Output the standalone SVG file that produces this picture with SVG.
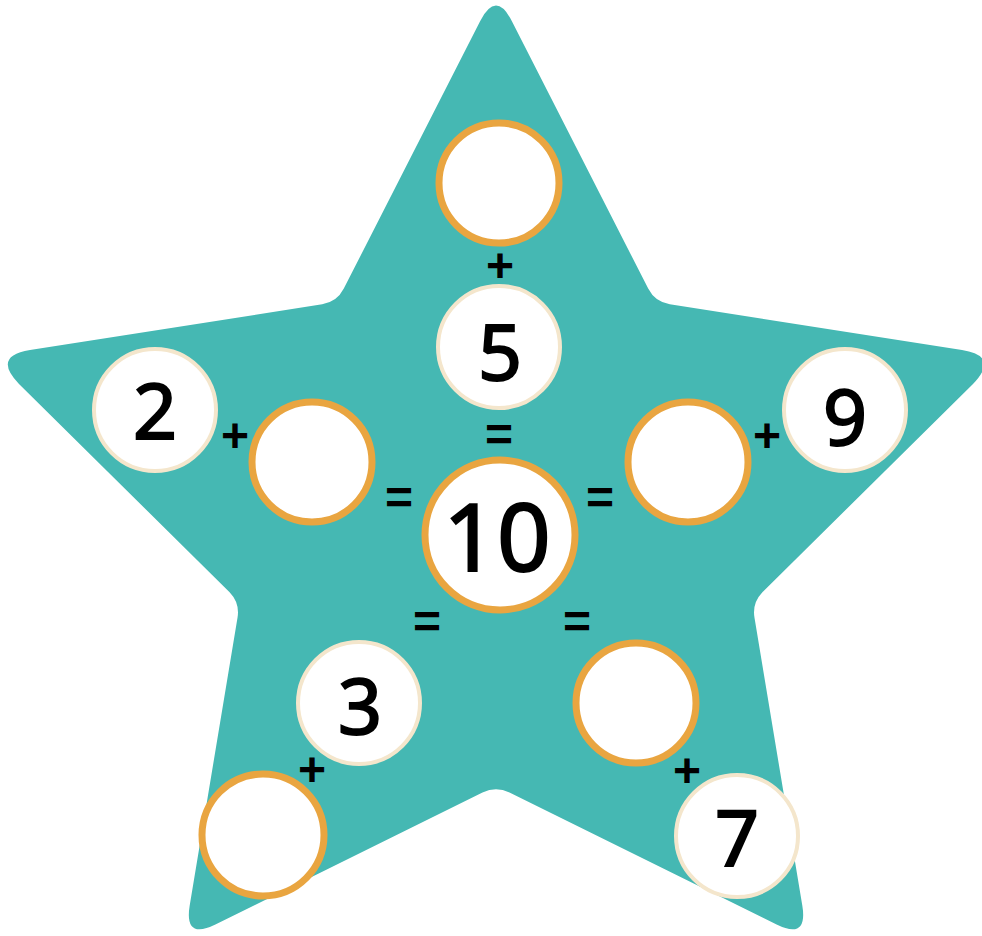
<svg xmlns="http://www.w3.org/2000/svg" width="982" height="936" viewBox="0 0 982 936">
<style>
.star{fill:#45b8b3}
.ring{fill:#ffffff;stroke:#e9a540;stroke-width:7}
.cream{fill:#ffffff;stroke:#f4e6cc;stroke-width:4}
.num{font-family:"Noto Sans",sans-serif;font-weight:normal;font-size:77px;fill:#000;stroke:#000;stroke-width:2;text-anchor:middle}
.big{font-size:94px}
.op{font-family:"Liberation Sans",Arial,sans-serif;font-weight:bold;font-size:48px;fill:#000;text-anchor:middle}
</style>
<path class="star" d="M 480.1,21.2 Q 496,-10 511.9,21.2 L 648.2,288.6 Q 655,302 669.8,304.3 L 962,350 Q 1000,356 973,384 L 762.4,592.2 Q 752,603 754.5,617.8 L 802.3,905.5 Q 808,940 776.6,924.5 L 509.5,792.6 Q 496,786 482.5,792.6 L 215.4,924.5 Q 184,940 189.7,905.5 L 237.5,617.8 Q 240,603 229.6,592.2 L 19,384 Q -8,356 30,350 L 322.2,304.3 Q 337,302 343.8,288.6 Z"/>
<g id="connectors">
<text class="op" x="500" y="282">+</text>
<text class="op" x="235" y="452">+</text>
<text class="op" x="767" y="452">+</text>
<text class="op" x="312" y="786">+</text>
<text class="op" x="687" y="787">+</text>
<text class="op" x="499" y="451">=</text>
<text class="op" x="399" y="514">=</text>
<text class="op" x="600" y="514">=</text>
<text class="op" x="427" y="638">=</text>
<text class="op" x="577" y="638">=</text>
</g>
<g id="n-top"><circle class="ring" cx="499" cy="183" r="60"/></g>
<g id="n-5"><circle class="cream" cx="499" cy="347" r="61"/><text class="num" x="500" y="380">5</text></g>
<g id="n-2"><circle class="cream" cx="155" cy="410" r="61"/><text class="num" x="155" y="439">2</text></g>
<g id="n-left"><circle class="ring" cx="312" cy="462" r="60"/></g>
<g id="n-10"><circle class="ring" cx="500" cy="535" r="75"/><text class="num big" x="497" y="571">10</text></g>
<g id="n-right"><circle class="ring" cx="688" cy="462" r="60"/></g>
<g id="n-9"><circle class="cream" cx="845" cy="410" r="61"/><text class="num" x="845" y="445">9</text></g>
<g id="n-3"><circle class="cream" cx="359" cy="703" r="61"/><text class="num" x="360" y="734">3</text></g>
<g id="n-bl"><circle class="ring" cx="263" cy="835" r="61"/></g>
<g id="n-br"><circle class="ring" cx="636" cy="703" r="60"/></g>
<g id="n-7"><circle class="cream" cx="737" cy="836" r="61"/><text class="num" x="737" y="866">7</text></g>
</svg>
